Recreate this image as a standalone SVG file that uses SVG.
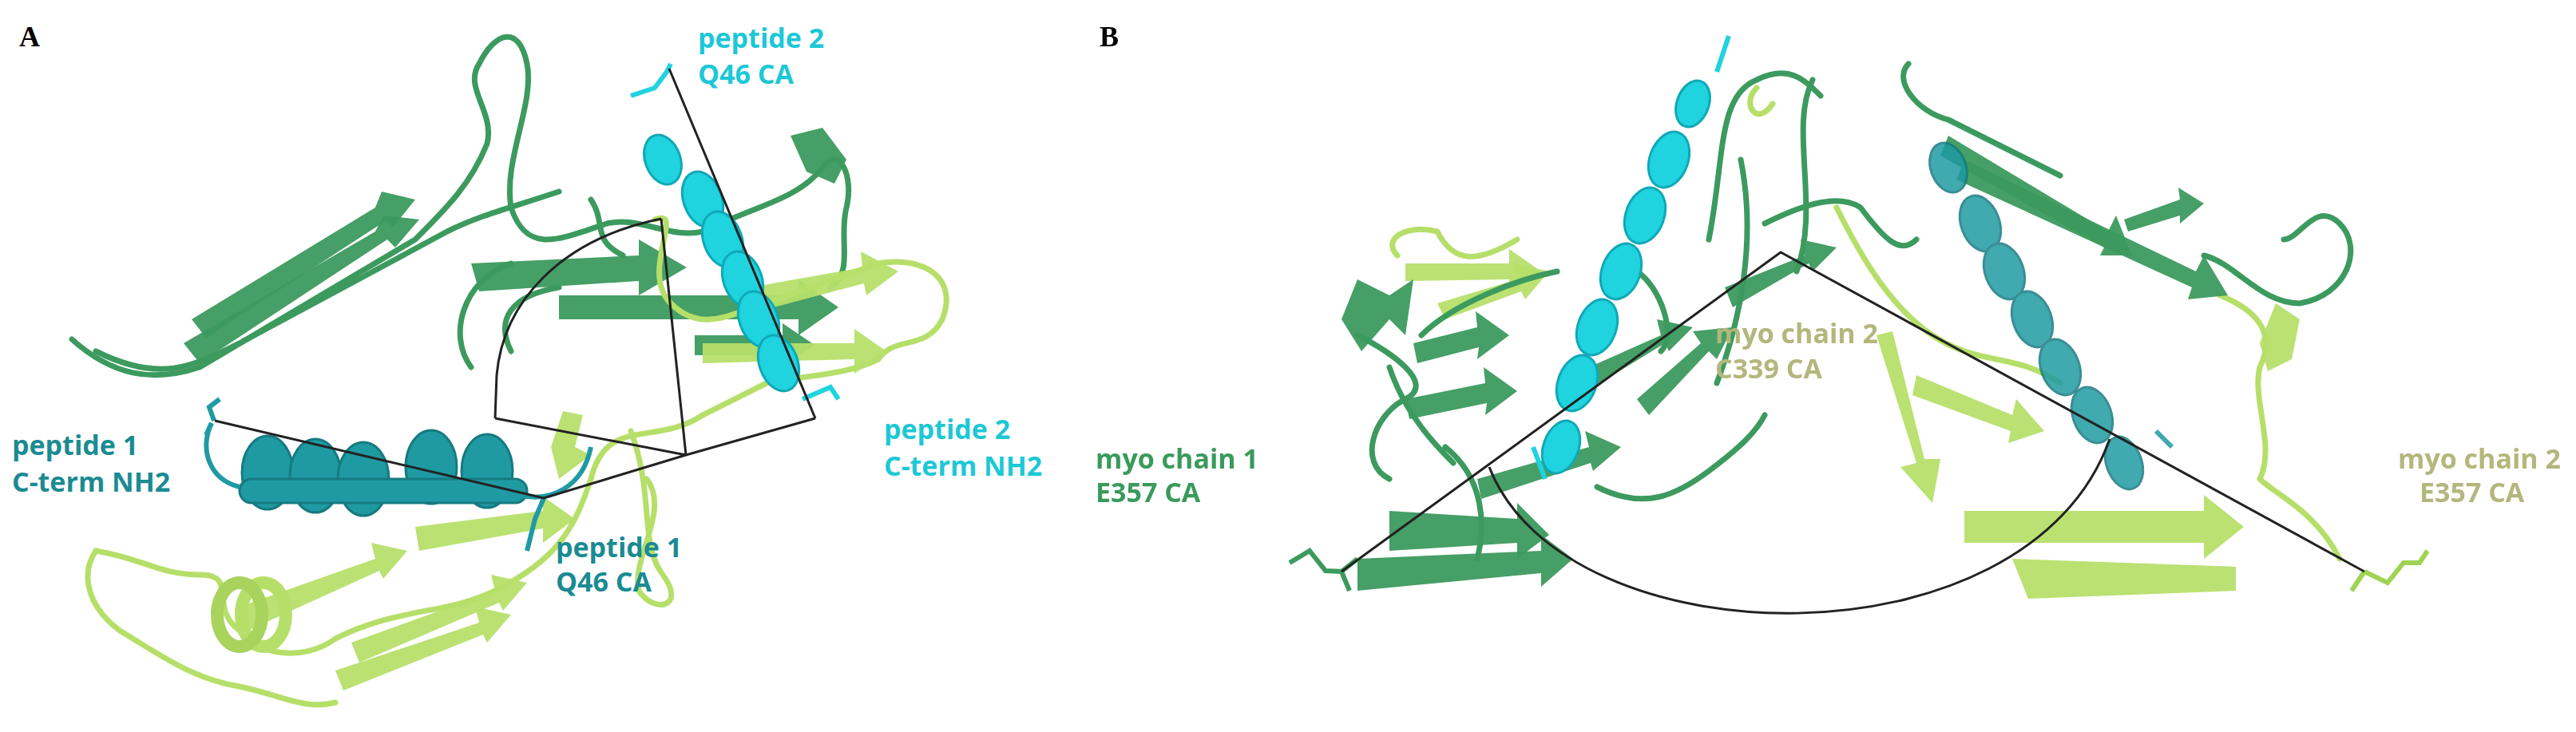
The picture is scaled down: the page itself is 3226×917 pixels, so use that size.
<svg xmlns="http://www.w3.org/2000/svg" width="3226" height="917" viewBox="0 0 3226 917">
<style>
.lbl{font-family:"Open Sans","Noto Sans",sans-serif;font-weight:700;font-size:34px}
.pan{font-family:"Liberation Serif",serif;font-weight:700;font-size:36px}
.dg{fill:none;stroke:#3c9a5e;stroke-width:7;stroke-linecap:round;stroke-linejoin:round}
.lg{fill:none;stroke:#b6df6a;stroke-width:7;stroke-linecap:round;stroke-linejoin:round}
.dgs{fill:#3c9a5e;opacity:.95}
.lgs{fill:#b6df6a;opacity:.95}
.cy{fill:#1fd3df;stroke:#10a8b5;stroke-width:3}
.tl{fill:#1f9aa2;stroke:#167a80;stroke-width:3}
.meas{fill:none;stroke:#222;stroke-width:3}
</style>
<rect width="3226" height="917" fill="#fff"/>
<g id="panelA">
<path class="dg" d="M90,425 C140,470 190,480 250,460 L520,300 C560,260 590,230 610,180 C620,140 580,110 600,80 C620,40 650,30 660,80 C670,130 630,200 640,260 C660,320 700,300 760,280 C800,270 840,300 880,290 C940,260 1000,250 1030,210 C1050,180 1070,220 1060,260 C1050,300 1070,340 1040,360"/>
<path class="dg" d="M120,440 C200,480 240,460 300,430 L560,290 C600,270 640,260 700,240"/>
<polygon class="dgs" points="230,430 470,290 480,270 525,275 495,310 485,300 250,455"/>
<polygon class="dgs" points="240,400 470,260 478,240 520,250 492,285 484,276 258,423"/>
<polygon class="dgs" points="590,330 800,320 800,300 860,335 800,370 800,352 600,365" opacity=".85"/>
<polygon class="dgs" points="700,370 1000,370 1000,350 1050,385 1000,420 1000,400 700,400" opacity=".8"/>
<polygon class="dgs" points="870,420 980,420 980,405 1020,432 980,460 980,445 870,445" opacity=".7"/>
<polygon class="dgs" points="990,170 1030,160 1060,200 1045,230 1010,215" opacity=".85"/>
<path class="dg" d="M590,460 C560,420 580,350 640,330 M640,440 C620,400 640,370 700,360 M740,250 C760,280 740,300 780,320"/>
<path class="lg" d="M820,275 C860,260 800,340 840,380 C880,420 920,390 960,380 L1100,330 C1160,320 1200,350 1180,400 C1160,440 1120,420 1100,450 C1060,470 1010,470 960,480 L880,520 C820,560 760,520 740,600 C720,660 700,700 620,740 C560,770 500,760 420,800 C380,830 320,820 300,790 C260,760 300,720 250,720 C200,720 180,700 120,690 M790,540 C820,620 800,680 830,720 C860,760 820,770 800,740 C790,700 840,640 810,600"/>
<polygon class="lgs" points="940,360 1080,335 1078,315 1125,340 1085,370 1082,355 950,390"/>
<polygon class="lgs" points="880,430 1070,430 1070,412 1110,440 1070,468 1070,450 880,455" opacity=".9"/>
<polygon class="lgs" points="690,560 705,515 730,520 720,560 740,570 700,600"/>
<polygon class="lgs" points="520,660 680,640 680,622 720,650 680,680 680,662 525,690"/>
<polygon class="lgs" points="300,760 470,700 465,680 510,690 480,725 475,715 310,790"/>
<polygon class="lgs" points="420,840 600,780 595,760 640,770 610,805 605,795 430,865"/>
<polygon class="lgs" points="440,805 620,740 615,720 660,730 630,765 625,755 450,830"/>
<ellipse cx="330" cy="770" rx="28" ry="40" fill="none" stroke="#b6df6a" stroke-width="16"/>
<ellipse cx="300" cy="770" rx="28" ry="40" fill="none" stroke="#a8d35c" stroke-width="16"/>
<path class="lg" d="M120,690 C100,720 110,760 150,790 C200,820 240,850 300,860 C350,870 380,890 420,880"/>
<g>
<ellipse class="tl" cx="335" cy="592" rx="32" ry="46"/>
<ellipse class="tl" cx="395" cy="596" rx="32" ry="46"/>
<ellipse class="tl" cx="455" cy="600" rx="32" ry="46"/>
<ellipse class="tl" cx="540" cy="585" rx="32" ry="46"/>
<ellipse class="tl" cx="610" cy="590" rx="32" ry="46"/>
<rect class="tl" x="300" y="600" width="360" height="30" rx="15"/>
<path d="M265,530 C250,560 260,600 300,610 M650,620 C690,630 730,610 740,560" fill="none" stroke="#1f9aa2" stroke-width="6"/>
</g>
<g>
<ellipse class="cy" cx="830" cy="200" rx="22" ry="32" transform="rotate(-20 830 200)"/>
<ellipse class="cy" cx="880" cy="250" rx="24" ry="36" transform="rotate(-20 880 250)"/>
<ellipse class="cy" cx="905" cy="300" rx="24" ry="36" transform="rotate(-20 905 300)"/>
<ellipse class="cy" cx="930" cy="350" rx="24" ry="36" transform="rotate(-20 930 350)"/>
<ellipse class="cy" cx="950" cy="400" rx="24" ry="36" transform="rotate(-20 950 400)"/>
<ellipse class="cy" cx="975" cy="455" rx="24" ry="36" transform="rotate(-20 975 455)"/>
<path d="M790,120 L820,110 L835,90 L840,80 M1005,500 L1040,485 L1050,500" fill="none" stroke="#1fd3df" stroke-width="6"/>
</g>
<path d="M268,527 L262,510 L275,500 M265,530 L258,545 M681,624 L670,650 L660,690" fill="none" stroke="#1f9aa2" stroke-width="6"/>
<g id="measA">
<path class="meas" d="M269,527 L681,624 L859,570 L1021,524 M859,570 L828,274 M838,86 L1021,524 M620,524 L859,570 M620,524 L622,470 C630,380 700,300 828,274"/>
</g>
<text class="pan" x="24" y="58">A</text>
<g id="lbl-p2q46"><text class="lbl" fill="#1cc8d6" x="874" y="60">peptide 2</text><text class="lbl" fill="#1cc8d6" x="874" y="105">Q46 CA</text></g>
<g id="lbl-p1c"><text class="lbl" fill="#1a8b92" x="15" y="570">peptide 1</text><text class="lbl" fill="#1a8b92" x="15" y="616">C-term NH2</text></g>
<g id="lbl-p2c"><text class="lbl" fill="#1cc8d6" x="1107" y="550">peptide 2</text><text class="lbl" fill="#1cc8d6" x="1107" y="596">C-term NH2</text></g>
<g id="lbl-p1q46"><text class="lbl" fill="#1a8b92" x="696" y="698">peptide 1</text><text class="lbl" fill="#1a8b92" x="696" y="741">Q46 CA</text></g>
</g>
<g id="panelB">
<path class="lg" d="M1750,320 C1730,300 1760,280 1800,290 C1820,330 1850,330 1900,300 M2200,110 C2180,130 2200,160 2220,130 M2300,260 C2320,300 2360,380 2420,420 C2480,460 2520,440 2580,480 M2780,370 C2830,390 2850,420 2830,460 C2820,500 2850,560 2830,600 C2850,620 2900,640 2930,700"/>
<polygon class="lgs" points="1760,330 1890,330 1890,312 1930,340 1890,368 1890,350 1760,352" opacity=".7"/>
<polygon class="lgs" points="1800,380 1900,350 1895,330 1940,340 1910,375 1905,365 1810,400" opacity=".7"/>
<polygon class="lgs" points="2350,420 2400,580 2380,585 2420,630 2430,575 2410,575 2370,415" opacity=".85"/>
<polygon class="lgs" points="2400,470 2520,520 2525,500 2560,540 2515,555 2518,540 2395,495" opacity=".85"/>
<polygon class="lgs" points="2460,640 2760,640 2760,620 2810,660 2760,700 2760,680 2460,680" opacity=".85"/>
<polygon class="lgs" points="2520,700 2800,710 2800,740 2540,750" opacity=".9"/>
<polygon class="lgs" points="2850,380 2880,400 2870,450 2840,465 2830,430" opacity=".8"/>
<path class="dg" d="M1740,600 C1700,580 1720,520 1760,500 C1800,480 1740,440 1700,420 M1780,420 C1820,380 1900,350 1950,340 M2140,300 C2160,200 2150,120 2200,100 C2240,80 2260,100 2280,120 M2270,100 C2240,160 2280,260 2250,340 M2180,200 C2200,300 2180,400 2150,480 M2050,340 C2080,360 2100,420 2080,440 M2210,280 C2250,260 2300,240 2330,260 C2360,300 2380,320 2400,300 M2390,80 C2370,100 2400,140 2440,150 C2480,170 2540,200 2580,220 M2760,320 C2800,330 2830,380 2880,380 C2940,370 2960,310 2930,280 C2900,250 2880,300 2860,300 M1740,460 C1760,520 1800,560 1820,580 M1810,560 C1860,600 1860,660 1850,700 M2000,610 C2060,640 2100,620 2140,590 C2180,560 2200,540 2210,520"/>
<polygon class="dgs" points="1700,350 1740,370 1770,350 1760,420 1740,400 1705,440 1680,400"/>
<polygon class="dgs" points="1770,430 1850,410 1848,390 1890,420 1850,450 1852,435 1775,455"/>
<polygon class="dgs" points="1760,500 1860,480 1858,460 1900,490 1860,520 1862,505 1765,525"/>
<polygon class="dgs" points="1740,640 1900,650 1900,630 1940,670 1900,700 1900,680 1740,690"/>
<polygon class="dgs" points="1700,700 1930,690 1930,670 1970,700 1930,735 1930,718 1700,740"/>
<polygon class="dgs" points="1850,600 1990,560 1985,540 2030,560 1995,590 1992,580 1855,625" opacity=".9"/>
<polygon class="dgs" points="2050,500 2130,430 2120,415 2170,410 2150,450 2140,440 2065,520" opacity=".9"/>
<polygon class="dgs" points="1990,460 2080,420 2075,400 2120,410 2090,440 2085,430 1995,485" opacity=".9"/>
<polygon class="dgs" points="2160,360 2260,320 2255,300 2300,310 2270,340 2265,330 2170,385" opacity=".9"/>
<polygon class="dgs" points="2460,200 2750,340 2760,320 2790,370 2740,375 2745,360 2450,225"/>
<polygon class="dgs" points="2440,170 2640,290 2650,270 2670,320 2630,320 2635,310 2430,195" opacity=".9"/>
<polygon class="dgs" points="2660,275 2730,250 2728,235 2760,255 2730,280 2730,270 2665,290"/>
<g>
<ellipse class="cy" cx="2120" cy="130" rx="20" ry="30" transform="rotate(20 2120 130)"/>
<ellipse class="cy" cx="2090" cy="200" rx="24" ry="36" transform="rotate(20 2090 200)"/>
<ellipse class="cy" cx="2060" cy="270" rx="24" ry="36" transform="rotate(20 2060 270)"/>
<ellipse class="cy" cx="2030" cy="340" rx="24" ry="36" transform="rotate(20 2030 340)"/>
<ellipse class="cy" cx="2000" cy="410" rx="24" ry="36" transform="rotate(20 2000 410)"/>
<ellipse class="cy" cx="1975" cy="480" rx="24" ry="36" transform="rotate(20 1975 480)"/>
<ellipse class="cy" cx="1955" cy="560" rx="22" ry="34" transform="rotate(20 1955 560)"/>
<path d="M2150,90 L2165,45 M1935,600 L1920,560" fill="none" stroke="#1fd3df" stroke-width="6"/>
</g>
<g opacity=".85">
<ellipse class="tl" cx="2440" cy="210" rx="22" ry="32" transform="rotate(-20 2440 210)"/>
<ellipse class="tl" cx="2480" cy="280" rx="24" ry="36" transform="rotate(-20 2480 280)"/>
<ellipse class="tl" cx="2510" cy="340" rx="24" ry="36" transform="rotate(-20 2510 340)"/>
<ellipse class="tl" cx="2545" cy="400" rx="24" ry="36" transform="rotate(-20 2545 400)"/>
<ellipse class="tl" cx="2580" cy="460" rx="24" ry="36" transform="rotate(-20 2580 460)"/>
<ellipse class="tl" cx="2620" cy="520" rx="24" ry="36" transform="rotate(-20 2620 520)"/>
<ellipse class="tl" cx="2660" cy="580" rx="22" ry="34" transform="rotate(-20 2660 580)"/>
<path d="M2700,540 L2720,560" fill="none" stroke="#1f9aa2" stroke-width="6"/>
</g>
<path d="M1615,705 L1640,690 L1660,715 L1680,716 L1690,740 M1680,716 L1700,700" fill="none" stroke="#3c9a5e" stroke-width="6"/>
<path d="M2961,716 L2990,730 L3010,705 L3030,705 L3040,690 M2961,716 L2945,740" fill="none" stroke="#9fd352" stroke-width="6"/>
<g id="measB">
<path class="meas" d="M1680,716 L2230,316 L2961,716 M1865,585 C1960,830 2540,840 2642,550"/>
</g>
<text class="pan" x="1377" y="58">B</text>
<g id="lbl-m1"><text class="lbl" fill="#3a9a5c" x="1372" y="587">myo chain 1</text><text class="lbl" fill="#3a9a5c" x="1372" y="629">E357 CA</text></g>
<g id="lbl-m2c"><text class="lbl" fill="#b3b77c" x="2148" y="430">myo chain 2</text><text class="lbl" fill="#b3b77c" x="2148" y="474">C339 CA</text></g>
<g id="lbl-m2e"><text class="lbl" fill="#b3b77c" x="3003" y="587">myo chain 2</text><text class="lbl" fill="#b3b77c" x="3030" y="629">E357 CA</text></g>
</g>
</svg>
